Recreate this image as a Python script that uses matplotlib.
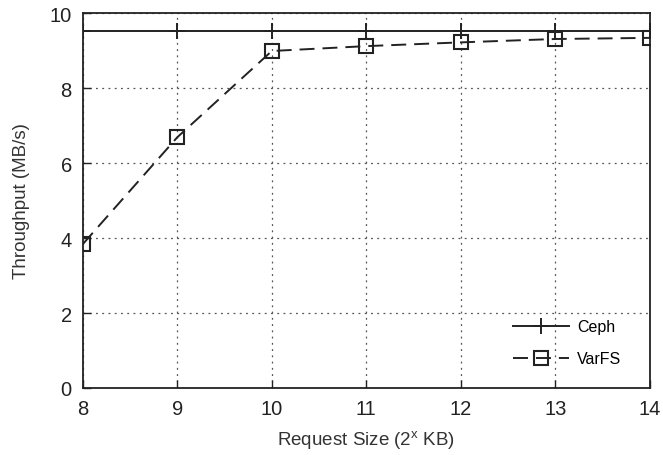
import matplotlib
matplotlib.use("Agg")
import matplotlib.pyplot as plt

plt.rcParams['font.family'] = ['Liberation Sans', 'DejaVu Sans']

request_size = [8, 9, 10, 11, 12, 13, 14]
ceph = [9.53, 9.53, 9.53, 9.53, 9.53, 9.53, 9.53]
varfs = [3.84, 6.69, 8.99, 9.12, 9.22, 9.31, 9.34]
yticks = [0, 2, 4, 6, 8, 10]

fig = plt.figure(figsize=(6.63, 4.56), dpi=100)
ax = fig.add_axes([0.125, 0.147, 0.855, 0.822])

ax.plot(request_size, ceph, color='#222222', linestyle='-', linewidth=1.4,
        marker='+', markersize=12, markeredgewidth=1.4, label='Ceph', zorder=3)
ax.plot(request_size, varfs, color='#222222', linestyle=(0, (7.7, 4.1)), linewidth=1.4,
        marker='s', markersize=10, markerfacecolor='none', markeredgewidth=1.5,
        markeredgecolor='#222222', label='VarFS', zorder=3)

ax.set_xlim(8, 14)
ax.set_ylim(0, 10)
ax.set_xticks(request_size)
ax.set_yticks(yticks)
ax.grid(True, linestyle=(0, (1.5, 3.5)), color='#555555', linewidth=0.9)
ax.tick_params(direction='in', length=6, width=1, labelsize=14.5, top=False, right=False,
               colors='#222222', pad=8)
for s in ax.spines.values():
    s.set_linewidth(1.3)
    s.set_color('#222222')

ax.set_xlabel('Request Size (2$^{\\mathregular{x}}$ KB)', fontsize=13.5, color='#333333', labelpad=7)
ax.set_ylabel('Throughput (MB/s)', fontsize=13.5, color='#333333', labelpad=14)

leg = ax.legend(loc='lower right', bbox_to_anchor=(0.975, 0.02), frameon=False,
                fontsize=11.5, handlelength=3.5, labelspacing=1.05, handletextpad=0.5)

fig.savefig('out.png', dpi=100)
